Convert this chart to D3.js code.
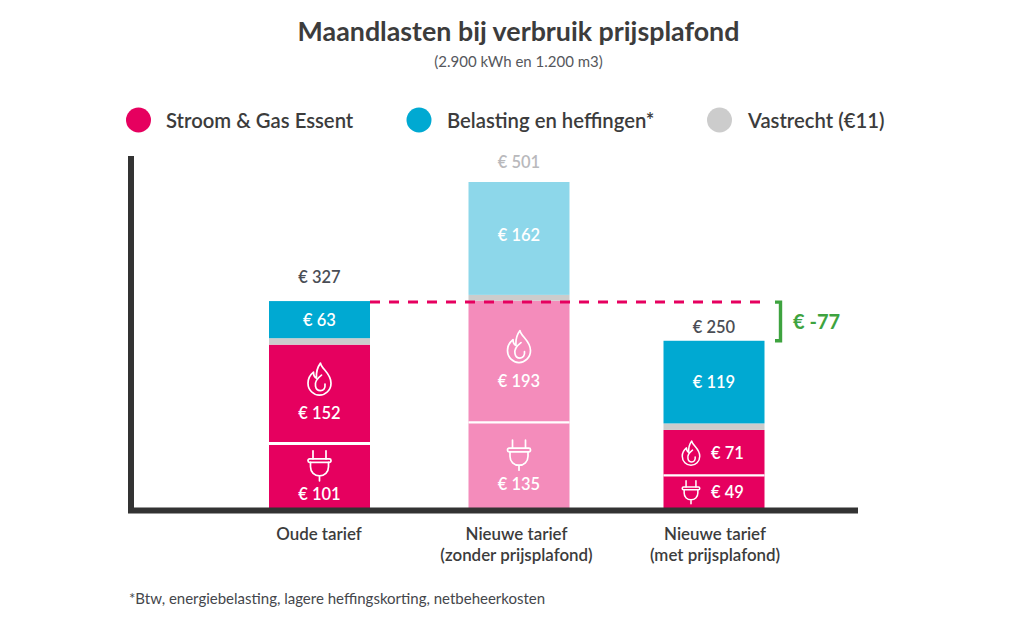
<!DOCTYPE html>
<html><head><meta charset="utf-8">
<script src="https://cdnjs.cloudflare.com/ajax/libs/d3/7.8.5/d3.min.js"></script>
<style>html,body{margin:0;background:#fff}svg{display:block}text{font-family:Lato,sans-serif}</style>
</head><body><svg id="c" width="1024" height="618"></svg>
<script>
// Category ticks (lines of each label)
const categories = ["Oude tarief", "Nieuwe tarief (zonder prijsplafond)", "Nieuwe tarief (met prijsplafond)"];
const tickLines = [["Oude tarief"], ["Nieuwe tarief", "(zonder prijsplafond)"], ["Nieuwe tarief", "(met prijsplafond)"]];
// Segment lengths (the drawn bars are not exactly to scale)
const stroomDrawn = [99, 131.5, 50];
const gasDrawn = [152, 187, 70];
const vastDrawn = [10, 9, 10];
const belastingDrawn = [57, 173.5, 127];
// Printed values
const stroomLabels = [101, 135, 49];
const gasLabels = [152, 193, 71];
const belastingLabels = [63, 162, 119];
const totalLabels = [327, 501, 250];
const totalColors = ["#4a4d55", "#b9b9bc", "#4a4d55"];
const faded = [false, true, false];
const legendItems = ["Stroom & Gas Essent", "Belasting en heffingen*", "Vastrecht (€11)"];
const difference = -77;

const PINK = "#e6005f", BLUE = "#00a9d2", GREY = "#cccccc", PINKF = "#f48cbb", BLUEF = "#8dd7ea", DARK = "#3c3c3c";
const svg = d3.select("#c");
const barW = 101;
const y = d3.scaleLinear().domain([0, 501]).range([508, 182]);
const xLeft = d3.scaleOrdinal().domain(categories).range([269, 468.5, 663.5]);
const xC = d3.scaleOrdinal().domain(categories).range([319.5, 519, 714]);
const xTick = d3.scaleOrdinal().domain(categories).range([318.5, 516, 714.5]);

const euro = v => "€ " + v;
function txt(x, yy, s, size, fill, weight, anchor) {
  return svg.append("text").attr("x", x).attr("y", yy).text(s)
    .attr("font-size", size).attr("fill", fill).attr("font-weight", weight || 500)
    .attr("text-anchor", anchor || "middle").attr("dominant-baseline", "central");
}

// Title
txt(518.5, 31, "Maandlasten bij verbruik prijsplafond", 26.8, DARK, 700);
txt(518.5, 61, "(2.900 kWh en 1.200 m3)", 15, "#55575c", 400);

// Legend
const legX = [138.5, 419, 719.5], legT = [166, 447, 748], legC = [PINK, BLUE, GREY];
legendItems.forEach((s, i) => {
  svg.append("circle").attr("cx", legX[i]).attr("cy", 120).attr("r", 12.5).attr("fill", legC[i]);
  txt(legT[i], 120, s, 20.3, DARK, 600, "start");
});

// Bars
categories.forEach((c, i) => {
  const x0 = xLeft(c), cx = xC(c);
  const fade = faded[i];
  const segs = [
    {k: "s", v: stroomDrawn[i], f: fade ? PINKF : PINK},
    {k: "g", v: gasDrawn[i], f: fade ? PINKF : PINK},
    {k: "v", v: vastDrawn[i], f: GREY},
    {k: "b", v: belastingDrawn[i], f: fade ? BLUEF : BLUE}
  ];
  let acc = 0;
  segs.forEach(s => {
    s.y0 = acc; acc += s.v; s.y1 = acc;
    s.top = y(s.y1); s.bot = y(s.y0); s.mid = (s.top + s.bot) / 2;
    svg.append("rect").attr("x", x0).attr("width", barW).attr("y", s.top).attr("height", s.bot - s.top).attr("fill", s.f);
  });
  // separator between stroom and gas
  svg.append("line").attr("x1", x0).attr("x2", x0 + barW)
    .attr("y1", y(segs[0].y1)).attr("y2", y(segs[0].y1))
    .attr("stroke", "#fff").attr("stroke-width", i === 0 ? 3 : 2.2);

  const S = segs[0], G = segs[1], B = segs[3];
  const white = "#fff";
  if (i < 2) {
    icon("plug", cx, S.mid - 10, 1);
    txt(cx, S.mid + 18.5, euro(stroomLabels[i]), 16.5, white, 600);
    icon("flame", cx, G.mid - 15, 1);
    txt(cx, G.mid + 19, euro(gasLabels[i]), 16.5, white, 600);
  } else {
    icon("plug", cx - 23, S.mid + .5, .76);
    txt(cx + 13.5, S.mid + .5, euro(stroomLabels[i]), 16.5, white, 600);
    icon("flame", cx - 23, G.mid + .5, .76);
    txt(cx + 13.5, G.mid, euro(gasLabels[i]), 16.5, white, 600);
  }
  txt(cx, B.mid - (i === 1 ? 3 : 0), euro(belastingLabels[i]), 16.5, white, 600);
  txt(cx, B.top + [-24, -20.5, -14][i], euro(totalLabels[i]), 16.5, totalColors[i], 600);
});

function icon(kind, cx, cy, k) {
  const g = svg.append("g").attr("transform", `translate(${cx},${cy}) scale(${k})`)
    .attr("fill", "none").attr("stroke", "#fff").attr("stroke-width", k < 1 ? 2 : 1.7)
    .attr("stroke-linejoin", "round").attr("stroke-linecap", "round");
  if (kind === "plug") {
    g.append("path").attr("d", "M-6.5,-15V-7M6.5,-15V-7");
    g.append("rect").attr("x", -11.5).attr("y", -7).attr("width", 23).attr("height", 3.6).attr("rx", 1.6);
    g.append("path").attr("d", "M-9,-3.4V1C-9,6.5 -5,10 0,10C5,10 9,6.5 9,1V-3.4M0,10V15");
  } else {
    g.append("path").attr("d", "M1,-16C2,-10 11.5,-6 11.5,4C11.5,11 6,16 0,16C-6,16 -11.5,11 -11.5,4C-11.5,-1 -8.5,-5 -6,-7C-6,-4 -5,-2 -3,-1C-3.5,-7 -2,-12 1,-16Z");
    g.append("path").attr("d", "M2,-4C-2,-1 -5,3 -4,7C-3.5,10 -1,11.5 1,11.5C4,11.5 6,9 5.5,5");
  }
}

// Axes
svg.append("line").attr("x1", 131).attr("x2", 131).attr("y1", 156).attr("y2", 513).attr("stroke", "#333").attr("stroke-width", 6);
svg.append("line").attr("x1", 128).attr("x2", 858).attr("y1", 510.5).attr("y2", 510.5).attr("stroke", "#333").attr("stroke-width", 6);
const ax = svg.append("g").attr("transform", "translate(0,513)")
  .call(d3.axisBottom(xTick).tickSize(0).tickPadding(0));
ax.select(".domain").remove();
ax.selectAll(".tick text").text(null).each(function (d, i) {
  const t = d3.select(this).attr("y", 21).attr("dy", null).attr("font-family", "Lato,sans-serif")
    .attr("font-size", 16.9).attr("font-weight", 600).attr("fill", DARK);
  tickLines[i].forEach((l, j) => t.append("tspan").attr("x", 0).attr("y", 27 + j * 20.5).text(l));
});

// Reference line and difference
const refY = y(stroomDrawn[0] + gasDrawn[0] + vastDrawn[0] + belastingDrawn[0]) + 1;
svg.append("line").attr("x1", 370).attr("x2", 767).attr("y1", refY).attr("y2", refY)
  .attr("stroke", PINK).attr("stroke-width", 3).attr("stroke-dasharray", "10 9");
const botY = y(stroomDrawn[2] + gasDrawn[2] + vastDrawn[2] + belastingDrawn[2]);
svg.append("path").attr("d", `M775,${refY}H780.5V${botY}H775`).attr("fill", "none")
  .attr("stroke", "#3ea33f").attr("stroke-width", 3.4);
txt(793, 321, "€ " + difference, 20, "#3ea33f", 700, "start");

// Footnote
txt(129, 598, "*Btw, energiebelasting, lagere heffingskorting, netbeheerkosten", 15, "#44464b", 400, "start");
</script></body></html>
